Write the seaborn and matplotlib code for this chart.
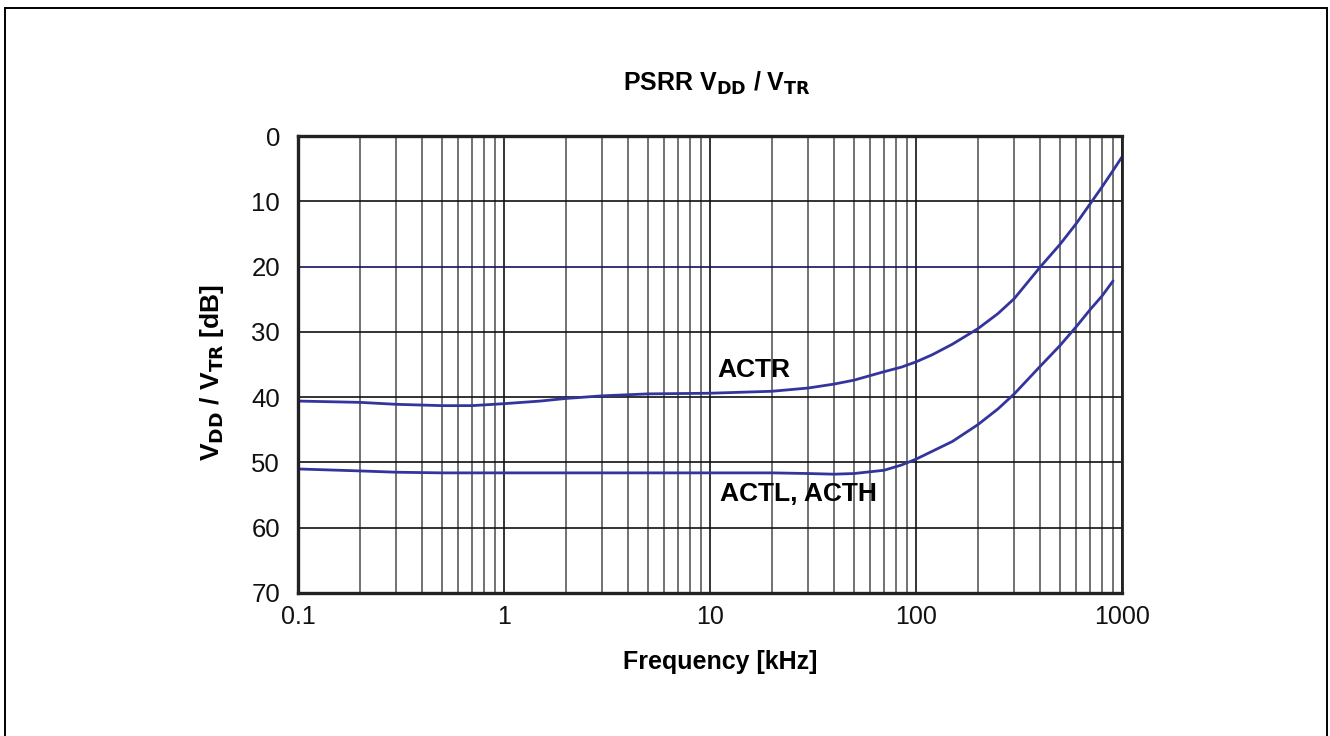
import matplotlib
matplotlib.use("Agg")
import matplotlib.pyplot as plt
import matplotlib.patches as mpatches
import matplotlib.ticker as mticker
import seaborn as sns
import pandas as pd
import numpy as np

# ---- data ----
freq_actr = [0.1, 0.2, 0.3, 0.5, 0.7, 1, 1.5, 2, 3, 5, 10, 20, 30, 40, 50, 70,
             85, 100, 120, 150, 200, 250, 300, 400, 500, 600, 700, 800, 900, 1000]
psrr_actr = [40.6, 40.8, 41.1, 41.3, 41.3, 41.0, 40.6, 40.2, 39.8, 39.5, 39.4, 39.1,
             38.6, 38.0, 37.4, 36.1, 35.4, 34.6, 33.5, 31.9, 29.5, 27.2, 24.9, 20.1,
             16.6, 13.4, 10.4, 7.8, 5.4, 3.2]
freq_actl = [0.1, 0.2, 0.3, 0.5, 0.7, 1, 1.5, 2, 3, 5, 10, 20, 30, 40, 50, 70,
             85, 100, 150, 200, 250, 300, 400, 500, 600, 700, 800, 905]
psrr_actl = [51.0, 51.3, 51.5, 51.6, 51.6, 51.6, 51.6, 51.6, 51.6, 51.6, 51.6, 51.6,
             51.7, 51.8, 51.7, 51.2, 50.4, 49.5, 46.8, 44.2, 41.8, 39.5, 35.3, 32.1,
             29.2, 26.6, 24.5, 22.2]
series_names = ["ACTR", "ACTL, ACTH"]
x_ticks = [0.1, 1, 10, 100, 1000]
x_ticklabels = ["0.1", "1", "10", "100", "1000"]
y_ticks = [0, 10, 20, 30, 40, 50, 60, 70]

df = pd.concat([
    pd.DataFrame({"freq": freq_actr, "psrr": psrr_actr, "series": series_names[0]}),
    pd.DataFrame({"freq": freq_actl, "psrr": psrr_actl, "series": series_names[1]}),
], ignore_index=True)

sns.set_theme(style="white")
FAM = ["Liberation Sans Narrow", "Liberation Sans", "DejaVu Sans"]
plt.rcParams["font.family"] = FAM
plt.rcParams["text.color"] = "black"
plt.rcParams["mathtext.fontset"] = "custom"
plt.rcParams["mathtext.rm"] = "Liberation Sans Narrow"
plt.rcParams["mathtext.bf"] = "Liberation Sans Narrow:bold"

W, H = 1330, 736
fig = plt.figure(figsize=(W / 100, H / 100), dpi=100)
L, R, T, B = 298, 1122, 136, 593
ax = fig.add_axes([L / W, 1 - B / H, (R - L) / W, (B - T) / H])

line_color = "#34359c"
sns.lineplot(data=df, x="freq", y="psrr", hue="series",
             palette={series_names[0]: line_color, series_names[1]: line_color},
             linewidth=2.0, legend=False, ax=ax, sort=True, estimator=None)
for ln in ax.get_lines():
    ln.set_solid_joinstyle("round")
    ln.set_solid_capstyle("round")

ax.set_xscale("log")
ax.set_xlim(0.1, 1000)
ax.set_ylim(70, 0)

ax.set_xticks(x_ticks)
ax.set_xticklabels(x_ticklabels)
ax.xaxis.set_minor_locator(mticker.LogLocator(base=10, subs=np.arange(2, 10)))
ax.xaxis.set_minor_formatter(mticker.NullFormatter())
ax.set_yticks(y_ticks)
ax.set_yticklabels([str(v) for v in y_ticks])

ax.tick_params(axis="both", which="both", length=0, labelcolor="#111111")
ax.tick_params(axis="y", pad=13, labelsize=18.5)
ax.tick_params(axis="x", pad=9, labelsize=18)
for lab in ax.get_xticklabels() + ax.get_yticklabels():
    lab.set_family(FAM)

ax.grid(True, which="major", axis="both", color="#111111", linewidth=1.2)
ax.grid(True, which="minor", axis="x", color="#5a5a5a", linewidth=1.2)
ygl = ax.get_ygridlines()
if len(ygl) > 2:
    ygl[2].set_color("#12125e")
ax.set_axisbelow(True)
for side in ["left", "bottom", "top"]:
    ax.spines[side].set_linewidth(2.4)
    ax.spines[side].set_color("#222222")
ax.spines["right"].set_linewidth(2.0)
ax.spines["right"].set_color("#222222")

ax.set_xlabel("")
ax.set_ylabel("")

ax.text(10.9, 35.8, "ACTR", fontsize=19, fontweight="bold", va="center", ha="left",
        color="black")
ax.text(11.2, 54.8, "ACTL, ACTH", fontsize=19, fontweight="bold", va="center", ha="left",
        color="black")

fig.text(717 / W, 1 - 83 / H, r"PSRR V$_\mathbf{DD}$ / V$_\mathbf{TR}$",
         fontsize=18, fontweight="bold", ha="center", va="center", color="black")
fig.text(720 / W, 1 - 662 / H, "Frequency [kHz]",
         fontsize=18, fontweight="bold", ha="center", va="center", color="black")
fig.text(212 / W, 1 - 372 / H, r"V$_\mathbf{DD}$ / V$_\mathbf{TR}$ [dB]",
         fontsize=19, fontweight="bold", ha="center", va="center", rotation=90,
         color="black")

# outer frame (bottom edge lies outside the image)
frame = mpatches.Rectangle((5.5 / W, -0.05), (1327 - 5.5) / W, (1 - 8 / H) + 0.05,
                           transform=fig.transFigure, fill=False,
                           edgecolor="black", linewidth=1.4)
fig.patches.append(frame)

fig.savefig("out.png", dpi=100, facecolor="white")
